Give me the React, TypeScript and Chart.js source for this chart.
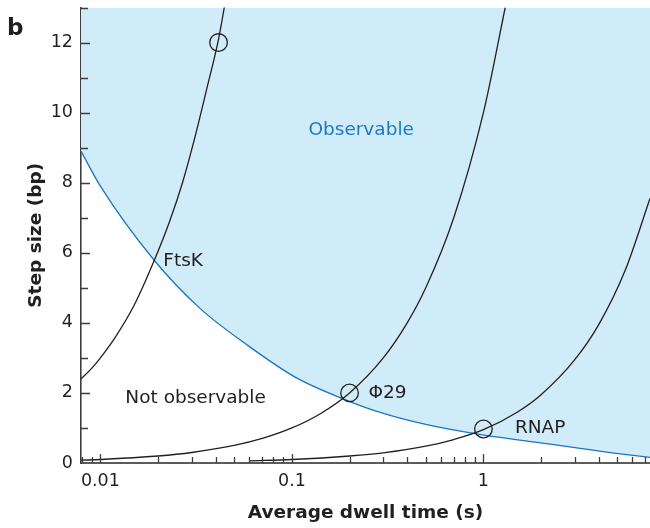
import React, { useEffect, useRef } from 'react';
import { Chart, registerables } from 'chart.js';

Chart.register(...registerables);

// ---- data ----
// Detection boundary (minimum observable step size vs. dwell time)
const boundaryTime = [0.00792, 0.01, 0.019, 0.033, 0.058, 0.104, 0.185, 0.286, 0.5, 0.92, 2.14, 4.7, 7.41];
const boundaryStep = [8.9, 7.9, 5.8, 4.42, 3.38, 2.45, 1.83, 1.45, 1.1, 0.83, 0.55, 0.29, 0.16];

// Motor curves
const ftskTime = [0.00792, 0.009, 0.01, 0.012, 0.015, 0.019, 0.023, 0.027, 0.031, 0.036, 0.0414, 0.046];
const ftskStep = [2.4, 2.7, 3.0, 3.6, 4.5, 5.75, 6.9, 8.05, 9.25, 10.7, 12.1, 13.5];

const phi29Time = [0.00792, 0.01, 0.02, 0.03, 0.05, 0.07, 0.1, 0.14, 0.2, 0.3, 0.4, 0.5, 0.7, 1.0, 1.3];
const phi29Step = [0.08, 0.1, 0.2, 0.3, 0.5, 0.7, 1.0, 1.4, 2.0, 3.0, 4.0, 5.0, 7.0, 10.0, 13.0];

const rnapTime = [0.06, 0.1, 0.2, 0.3, 0.5, 0.7, 1.0, 1.5, 2.0, 3.0, 4.0, 5.5, 7.41];
const rnapStep = [0.06, 0.1, 0.2, 0.29, 0.48, 0.67, 0.95, 1.45, 1.95, 2.95, 3.95, 5.5, 7.55];

// Circled reference points (FtsK, Φ29, RNAP)
const markerTime = [0.0414, 0.2, 1.0];
const markerStep = [12.0, 2.0, 0.97];

// Axes
const xMin = 0.00792;
const xMax = 7.41;
const yMin = 0;
const yMax = 13;
const xTickValues = [
  0.008, 0.009, 0.01, 0.02, 0.03, 0.04, 0.05, 0.06, 0.07, 0.08, 0.09,
  0.1, 0.2, 0.3, 0.4, 0.5, 0.6, 0.7, 0.8, 0.9,
  1, 2, 3, 4, 5, 6, 7,
];
const xLabelValues = [0.01, 0.1, 1];
const xLabelTexts = ['0.01', '0.1', '1'];
const yTickValues = [1, 2, 3, 4, 5, 6, 7, 8, 9, 10, 11, 12, 13];

const annotationTexts = ['Observable', 'FtsK', 'Not observable', 'Φ29', 'RNAP'];
const annotationTime = [0.23, 0.0213, 0.0135, 0.251, 1.46];
const annotationStep = [9.5, 5.77, 1.86, 2.0, 0.98];

// ---- styles ----
const FONT = '"DejaVu Sans", "Liberation Sans", Arial, sans-serif';
const TEXT = '#231f20';
const BLUE = '#1976c2';
const BLUE_TEXT = '#1a7bc4';
const FILL = '#d1ecf9';

const toPoints = (xs: number[], ys: number[]) => xs.map((x, i) => ({ x, y: ys[i] }));

const inwardTicks = {
  id: 'inwardTicks',
  afterDatasetsDraw(chart: any) {
    const { ctx, chartArea, scales } = chart;
    const xs = scales.x;
    const ys = scales.y;
    ctx.save();
    ctx.strokeStyle = '#3d3d3d';
    ctx.lineWidth = 1.3;
    ctx.beginPath();
    for (const v of xTickValues) {
      const px = Math.round(xs.getPixelForValue(v)) + 0.5;
      const isMajor = xLabelValues.includes(v);
      const len = isMajor ? 9 : 6;
      ctx.moveTo(px, chartArea.bottom);
      ctx.lineTo(px, chartArea.bottom - len);
    }
    for (const v of yTickValues) {
      const py = Math.round(ys.getPixelForValue(v)) + 0.5;
      const len = v % 2 === 0 ? 9 : 7;
      ctx.moveTo(chartArea.left, py);
      ctx.lineTo(chartArea.left + len, py);
    }
    ctx.stroke();

    // annotations
    ctx.textBaseline = 'middle';
    annotationTexts.forEach((txt, i) => {
      const px = xs.getPixelForValue(annotationTime[i]);
      const py = ys.getPixelForValue(annotationStep[i]);
      ctx.font = `18.5px ${FONT}`;
      ctx.fillStyle = i === 0 ? BLUE_TEXT : TEXT;
      ctx.textAlign = i === 0 ? 'center' : 'left';
      ctx.fillText(txt, px, py);
    });

    // panel letter
    ctx.font = `bold 23px ${FONT}`;
    ctx.fillStyle = TEXT;
    ctx.textAlign = 'left';
    ctx.textBaseline = 'alphabetic';
    ctx.fillText('b', 7, 35);
    ctx.restore();
  },
};

export default function App() {
  const canvasRef = useRef<HTMLCanvasElement | null>(null);

  useEffect(() => {
    if (!canvasRef.current) return;
    const lineStyle = {
      borderColor: TEXT,
      borderWidth: 1.3,
      pointRadius: 0,
      fill: false,
      cubicInterpolationMode: 'monotone',
      order: 1,
    };
    const chart = new Chart(canvasRef.current, {
      type: 'line',
      data: {
        datasets: [
          {
            label: 'markers',
            data: toPoints(markerTime, markerStep),
            showLine: false,
            pointRadius: 8.8,
            pointBorderWidth: 1.3,
            pointBorderColor: TEXT,
            pointBackgroundColor: 'rgba(0,0,0,0)',
            order: 0,
          },
          { label: 'FtsK', data: toPoints(ftskTime, ftskStep), ...lineStyle },
          { label: 'Φ29', data: toPoints(phi29Time, phi29Step), ...lineStyle },
          { label: 'RNAP', data: toPoints(rnapTime, rnapStep), ...lineStyle },
          {
            label: 'boundary',
            data: toPoints(boundaryTime, boundaryStep),
            borderColor: BLUE,
            borderWidth: 1.3,
            backgroundColor: FILL,
            pointRadius: 0,
            fill: 'end',
            cubicInterpolationMode: 'monotone',
            order: 2,
          },
        ],
      },
      options: {
        responsive: false,
        animation: false,
        layout: { autoPadding: false, padding: { top: 7.5, right: 0, bottom: 0, left: 0 } },
        plugins: {
          legend: { display: false },
          tooltip: { enabled: false },
        },
        scales: {
          x: {
            type: 'logarithmic',
            min: xMin,
            max: xMax,
            afterBuildTicks: (s: any) => {
              s.ticks = xTickValues.map((v) => ({ value: v }));
            },
            afterFit: (s: any) => {
              s.height = 65;
              s.paddingLeft = 0;
              s.paddingRight = 0;
            },
            grid: {
              display: true,
              drawOnChartArea: false,
              drawTicks: true,
              tickLength: 8,
              color: 'rgba(0,0,0,0)',
            },
            border: { display: true, color: '#5b5b5b', width: 2 },
            ticks: {
              padding: 0,
              autoSkip: false,
              maxRotation: 0,
              minRotation: 0,
              color: TEXT,
              font: { family: FONT, size: 17.5 },
              callback: (v: any) => {
                const idx = xLabelValues.findIndex((lv) => Math.abs(lv - Number(v)) < 1e-12);
                return idx >= 0 ? xLabelTexts[idx] : null;
              },
            },
            title: {
              display: true,
              text: 'Average dwell time (s)',
              color: TEXT,
              font: { family: FONT, size: 18.5, weight: 'bold' },
              padding: { top: 0, bottom: 4 },
            },
          },
          y: {
            type: 'linear',
            min: yMin,
            max: yMax,
            afterFit: (s: any) => {
              s.width = 81;
              s.paddingTop = 0;
              s.paddingBottom = 0;
            },
            grid: {
              display: true,
              drawOnChartArea: false,
              drawTicks: true,
              tickLength: 8,
              color: 'rgba(0,0,0,0)',
            },
            border: { display: true, color: '#3d3d3d', width: 1.6 },
            ticks: {
              stepSize: 1,
              padding: 0,
              autoSkip: false,
              color: TEXT,
              font: { family: FONT, size: 17.5 },
              callback: (v: any) => (Number(v) % 2 === 0 ? String(v) : null),
            },
            title: {
              display: true,
              text: 'Step size (bp)',
              color: TEXT,
              font: { family: FONT, size: 18.5, weight: 'bold' },
              padding: { top: 25, bottom: 0 },
            },
          },
        },
      },
      plugins: [inwardTicks],
    } as any);
    return () => chart.destroy();
  }, []);

  return (
    <div style={{ position: 'fixed', left: 0, top: 0, width: 650, height: 528, background: '#fff' }}>
      <canvas ref={canvasRef} width={650} height={528} style={{ display: 'block' }} />
    </div>
  );
}
